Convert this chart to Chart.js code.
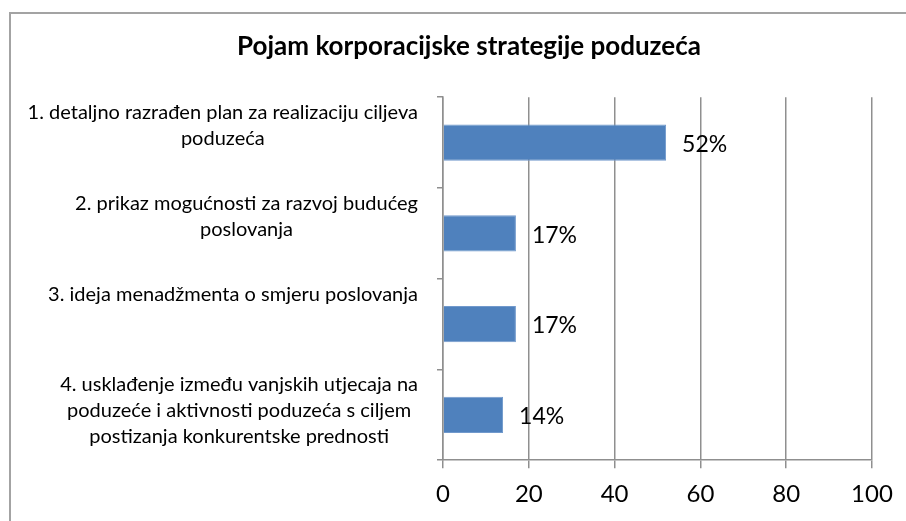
<!DOCTYPE html>
<html>
<head>
<meta charset="utf-8">
<title>Pojam korporacijske strategije poduzeća</title>
<script src="https://cdn.jsdelivr.net/npm/chart.js@4.4.0/dist/chart.umd.min.js"></script>
<style>
  html, body { margin: 0; padding: 0; background: #fff; }
  #wrap { width: 906px; height: 521px; }
</style>
</head>
<body>
<div id="wrap"><canvas id="chart" width="906" height="521"></canvas></div>
<script>
// Survey answers, one multi-line label per category
const categories = [
    ["1. detaljno razrađen plan za realizaciju ciljeva", "poduzeća"],
    ["2. prikaz mogućnosti za razvoj budućeg", "poslovanja"],
    ["3. ideja menadžmenta o smjeru poslovanja"],
    ["4. usklađenje između vanjskih utjecaja na", "poduzeće i aktivnosti poduzeća s ciljem", "postizanja konkurentske prednosti"]
];
const shares = [52, 17, 17, 14];
const axisMin = 0;
const axisMax = 100;
const axisStep = 20;
const chartTitle = "Pojam korporacijske strategije poduzeća";

const FONT = "Lato, 'Open Sans', sans-serif";
const GRID = "#8f8f8f";

// white background plus the frame line on the left and top
const framePlugin = {
    id: "frame",
    beforeDraw(chart) {
        const ctx = chart.ctx;
        ctx.save();
        ctx.fillStyle = "#fff";
        ctx.fillRect(0, 0, chart.width, chart.height);
        ctx.strokeStyle = "#a3a3a3";
        ctx.lineWidth = 2;
        ctx.beginPath();
        ctx.moveTo(10, chart.height);
        ctx.lineTo(10, 13);
        ctx.lineTo(chart.width, 13);
        ctx.stroke();
        ctx.restore();
    }
};

// category labels: top of each band, lines centred within a right-aligned block
const categoryLabels = {
    id: "categoryLabels",
    afterDraw(chart) {
        const ctx = chart.ctx;
        const y = chart.scales.y;
        const band = (y.bottom - y.top) / categories.length;
        const rightEdge = y.right - 25;
        ctx.save();
        ctx.font = "20px " + FONT;
        ctx.fillStyle = "#000";
        ctx.textAlign = "center";
        ctx.textBaseline = "alphabetic";
        categories.forEach((lines, i) => {
            const top = y.getPixelForValue(i) - band / 2;
            const widest = Math.max(...lines.map(l => ctx.measureText(l).width));
            const cx = rightEdge - widest / 2;
            lines.forEach((line, j) => {
                ctx.fillText(line, cx, top + 22 + j * 26);
            });
        });
        ctx.restore();
    }
};

// percentage next to each bar
const valueLabels = {
    id: "valueLabels",
    afterDatasetsDraw(chart) {
        const ctx = chart.ctx;
        const meta = chart.getDatasetMeta(0);
        ctx.save();
        ctx.font = "23px " + FONT;
        ctx.fillStyle = "#000";
        ctx.textAlign = "left";
        ctx.textBaseline = "middle";
        meta.data.forEach((bar, i) => {
            ctx.fillText(shares[i] + "%", bar.x + 16, bar.y + 2);
        });
        ctx.restore();
    }
};

new Chart(document.getElementById("chart"), {
    type: "bar",
    data: {
        labels: categories,
        datasets: [{
            data: shares,
            backgroundColor: "#4f81bd",
            borderColor: "#7199cc",
            borderWidth: 1,
            barPercentage: 0.4,
            categoryPercentage: 1
        }]
    },
    options: {
        indexAxis: "y",
        responsive: false,
        animation: false,
        layout: { padding: { left: 66, right: 34, top: 0, bottom: 0 } },
        plugins: {
            legend: { display: false },
            tooltip: { enabled: false },
            title: {
                display: true,
                text: chartTitle,
                color: "#000",
                font: { family: FONT, size: 26, weight: "bold" },
                padding: { top: 31, bottom: 35 }
            }
        },
        scales: {
            x: {
                min: axisMin,
                max: axisMax,
                ticks: {
                    stepSize: axisStep,
                    color: "#000",
                    font: { family: FONT, size: 24 },
                    padding: 12
                },
                grid: { color: GRID, lineWidth: 1.5, tickLength: 8 },
                border: { color: GRID, width: 1.5 }
            },
            y: {
                ticks: { display: false },
                grid: {
                    offset: true,
                    drawOnChartArea: false,
                    tickLength: 6,
                    color: GRID,
                    lineWidth: 1.5
                },
                border: { color: GRID, width: 1.5 },
                afterFit(scale) { scale.width = 377; }
            }
        }
    },
    plugins: [framePlugin, categoryLabels, valueLabels]
});
</script>
</body>
</html>
